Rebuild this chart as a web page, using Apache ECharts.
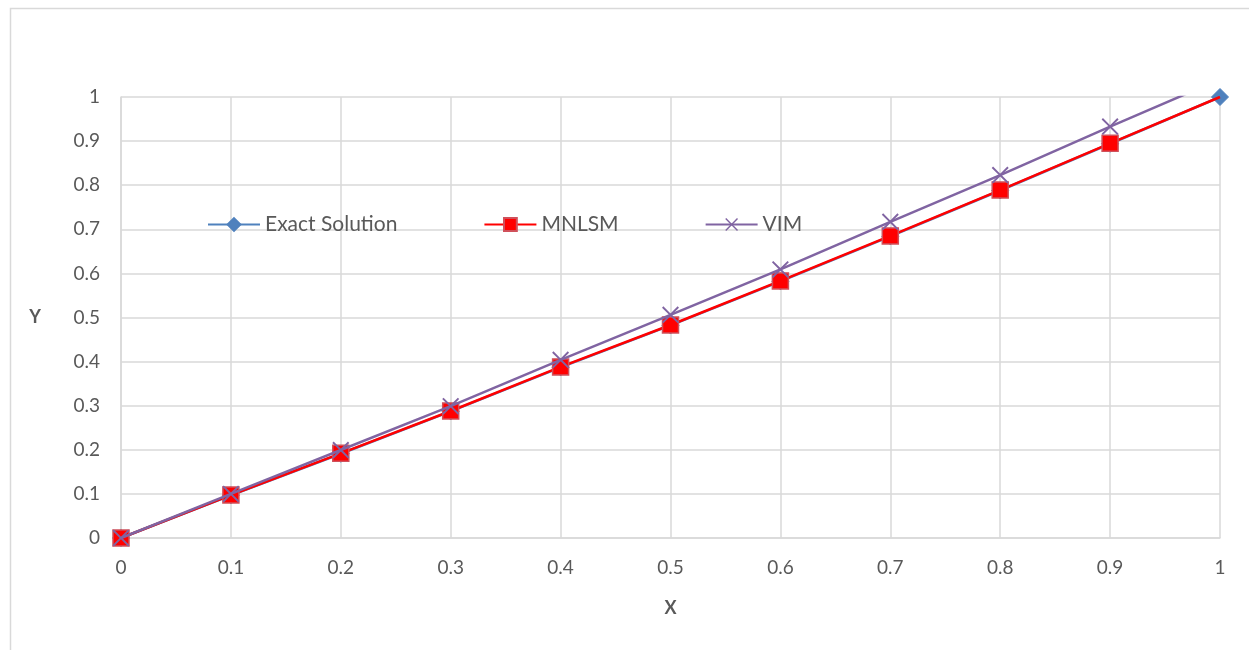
<!DOCTYPE html>
<html>
<head>
<meta charset="utf-8">
<script src="https://cdn.jsdelivr.net/npm/echarts@6/dist/echarts.min.js"></script>
<style>
html,body{margin:0;padding:0;background:#fff;}
#main{width:1249px;height:650px;}
</style>
</head>
<body>
<div id="main"></div>
<script>
var xValues = [0, 0.1, 0.2, 0.3, 0.4, 0.5, 0.6, 0.7, 0.8, 0.9, 1.0];
var exactValues = [0, 0.097, 0.191, 0.287, 0.387, 0.482, 0.582, 0.684, 0.788, 0.894, 1.0];
var mnlsmValues = [0, 0.0975, 0.192, 0.288, 0.388, 0.483, 0.583, 0.685, 0.789, 0.895, 1.0];
var vimValues = [0, 0.1, 0.1995, 0.299, 0.404, 0.506, 0.609, 0.717, 0.823, 0.933, 1.04];
var seriesNames = ['Exact Solution', 'MNLSM', 'VIM'];

function pairs(xs, ys) { return xs.map(function (x, i) { return [x, ys[i]]; }); }
// MNLSM's marker at the final point is not drawn (only the exact diamond shows there)
function pairsNoLastSymbol(xs, ys) {
  return xs.map(function (x, i) {
    return i === xs.length - 1 ? {value: [x, ys[i]], symbol: 'none'} : [x, ys[i]];
  });
}

var FONT = 'Lato';
var TXT = '#595959';
var GRID = '#d9d9d9';
var xSym = 'path://M0,0.8L0.8,0L5,4.2L9.2,0L10,0.8L5.8,5L10,9.2L9.2,10L5,5.8L0.8,10L0,9.2L4.2,5Z';

var chart = echarts.init(document.getElementById('main'), null, {renderer: 'canvas'});
chart.setOption({
  animation: false,
  backgroundColor: '#fff',
  textStyle: {fontFamily: FONT},
  graphic: [{
    type: 'rect', left: 8, top: 6, shape: {width: 1280, height: 700},
    style: {fill: 'none', stroke: GRID, lineWidth: 1.5}, silent: true
  }],
  legend: {
    left: 202, top: 209, itemWidth: 52, itemHeight: 16, itemGap: 86,
    textStyle: {fontFamily: FONT, fontSize: 21, color: TXT},
    data: seriesNames
  },
  grid: {left: 121, right: 29, top: 97, bottom: 112, containLabel: false},
  xAxis: {
    type: 'value', min: 0, max: 1, interval: 0.1,
    name: 'X', nameLocation: 'middle', nameGap: 61,
    nameTextStyle: {fontFamily: FONT, fontSize: 18, fontWeight: 'bold', color: TXT},
    axisLine: {show: true, lineStyle: {color: GRID, width: 1.5}},
    axisTick: {show: false},
    axisLabel: {margin: 20, fontSize: 19, color: TXT, fontFamily: FONT,
      formatter: function (v) { return String(+v.toFixed(1)); }},
    splitLine: {show: true, lineStyle: {color: GRID, width: 1.5}}
  },
  yAxis: {
    type: 'value', min: 0, max: 1, interval: 0.1,
    name: 'Y', nameLocation: 'middle', nameGap: 80, nameRotate: 0,
    nameTextStyle: {fontFamily: FONT, fontSize: 18, fontWeight: 'bold', color: TXT},
    axisLine: {show: true, lineStyle: {color: GRID, width: 1.5}},
    axisTick: {show: false},
    axisLabel: {margin: 21, fontSize: 19, color: TXT, fontFamily: FONT,
      formatter: function (v) { return String(+v.toFixed(1)); }},
    splitLine: {show: true, lineStyle: {color: GRID, width: 1.5}}
  },
  series: [
    {
      name: seriesNames[0], type: 'line', data: pairs(xValues, exactValues),
      symbol: 'diamond', symbolSize: 17, showAllSymbol: true, z: 2,
      lineStyle: {color: '#4f81bd', width: 2.5},
      itemStyle: {color: '#4f81bd', borderColor: '#4f81bd', borderWidth: 1}
    },
    {
      name: seriesNames[1], type: 'line', data: pairsNoLastSymbol(xValues, mnlsmValues),
      symbol: 'rect', symbolSize: 16, showAllSymbol: true, z: 3,
      lineStyle: {color: '#ff0000', width: 2.5},
      itemStyle: {color: '#ff0000', borderColor: '#d0505a', borderWidth: 1.5}
    },
    {
      name: seriesNames[2], type: 'line', data: pairs(xValues, vimValues),
      symbol: xSym, symbolSize: 17, showAllSymbol: true, clip: true, z: 4,
      lineStyle: {color: '#8064a2', width: 2.5},
      itemStyle: {color: '#8064a2'}
    }
  ]
});
</script>
</body>
</html>
